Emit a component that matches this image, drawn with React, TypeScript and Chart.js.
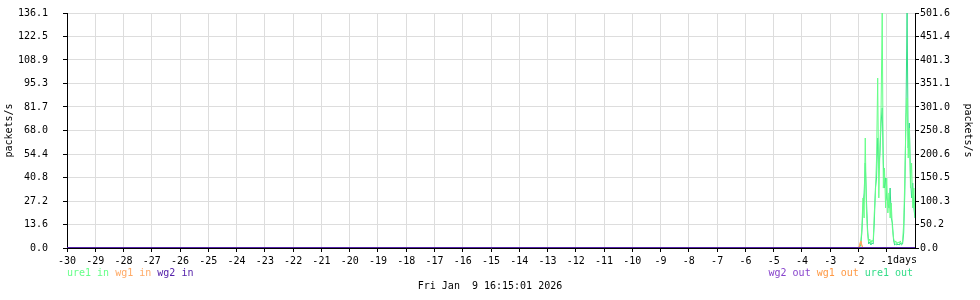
import React, { useEffect, useRef } from 'react';
import { Chart, registerables } from 'chart.js';

Chart.register(...registerables);

// ---------- data ----------
const xTickValues = [-30, -29, -28, -27, -26, -25, -24, -23, -22, -21, -20, -19, -18, -17, -16, -15, -14, -13, -12, -11, -10, -9, -8, -7, -6, -5, -4, -3, -2, -1];
const xUnitLabel = 'days';
const leftTickValues = [0, 13.6, 27.2, 40.8, 54.4, 68.0, 81.7, 95.3, 108.9, 122.5, 136.1];
const rightTickValues = [0, 50.2, 100.3, 150.5, 200.6, 250.8, 301.0, 351.1, 401.3, 451.4, 501.6];
const leftMax = 136.1;
const rightMax = 501.6;
const axisTitle = 'packets/s';
const dateLabel = 'Fri Jan  9 16:15:01 2026';
const inLegendLabels = ['ure1 in', 'wg1 in', 'wg2 in'];
const outLegendLabels = ['wg2 out', 'wg1 out', 'ure1 out'];

// samples cover the last 2.2 days (before that all series are 0)
const sampleStartDay = -2.2;
const sampleStepDay = 0.04;

const ure1In = [0, 0, 0, 0, 0, 0, 1.2, 2.9, 11.6, 29.0, 17.4, 63.7, 23.2, 8.7, 3.5, 5.2, 2.9, 4.6, 3.5, 20.3, 31.9, 52.1, 98.4, 29.0, 57.9, 81.1, 136.1, 34.7, 46.3, 23.2, 40.5, 20.3, 31.9, 17.4, 26.1, 11.6, 5.8, 2.9, 4.1, 2.3, 3.5, 2.9, 4.1, 2.3, 3.5, 14.5, 40.5, 75.3, 86.9, 52.1, 69.5, 34.7, 49.2, 23.2, 34.7, 17.4];
const ure1Out = [0, 0, 0, 0, 0, 0, 2.1, 6.4, 32.0, 85.4, 117.4, 181.4, 106.7, 42.7, 8.5, 12.8, 6.4, 10.7, 8.5, 53.4, 128.1, 149.4, 234.8, 170.8, 202.8, 266.8, 298.8, 181.4, 128.1, 149.4, 106.7, 96.1, 85.4, 128.1, 64.0, 53.4, 17.1, 6.4, 8.5, 6.4, 8.5, 6.4, 10.7, 6.4, 8.5, 32.0, 117.4, 288.2, 501.6, 213.5, 266.8, 149.4, 106.7, 138.7, 85.4, 64.0];
const wg1In = [0, 0, 0, 0, 0, 0, 1.7, 4.1, 1.2, 0, 0, 0, 0, 0, 0, 0, 0, 0, 0, 0, 0, 0, 0, 0, 0, 0, 0, 0, 0, 0, 0, 0, 0, 0, 0, 0, 0, 0, 0, 0, 0, 0, 0, 0, 0, 0, 0, 0, 0, 0, 0, 0, 0, 0, 0, 0];
const wg1Out = [0, 0, 0, 0, 0, 0, 4.3, 15.0, 6.4, 0, 0, 0, 0, 0, 0, 0, 0, 0, 0, 0, 0, 0, 0, 0, 0, 0, 0, 0, 0, 0, 0, 0, 0, 0, 0, 0, 0, 0, 0, 0, 0, 0, 0, 0, 0, 0, 0, 0, 0, 0, 0, 0, 0, 0, 0, 0];
const wg2In = [0, 0];
const wg2Out = [0, 0];
const wg2Days = [-30, 0];

// ---------- styles ----------
const FONT = '"DejaVu Sans Mono", monospace';
const C_URE1_IN = '#66ff88';
const C_WG1_IN = '#ffaa66';
const C_WG2_IN = '#5522aa';
const C_WG2_OUT = '#8844cc';
const C_WG1_OUT = '#ff9944';
const C_URE1_OUT = '#33dd88';
const inColors = [C_URE1_IN, C_WG1_IN, C_WG2_IN];
const outColors = [C_WG2_OUT, C_WG1_OUT, C_URE1_OUT];
const GRID = '#dddddd';

function toPoints(values: number[]) {
  const pts = [{ x: -30, y: 0 }];
  values.forEach((v, i) => pts.push({ x: sampleStartDay + i * sampleStepDay, y: v }));
  return pts;
}

const textPlugin = {
  id: 'rrdTexts',
  afterDraw(chart: any) {
    const ctx = chart.ctx;
    const area = chart.chartArea;
    ctx.save();
    ctx.font = '10px ' + FONT;
    ctx.textBaseline = 'middle';
    // left legend
    ctx.textAlign = 'left';
    let x = area.left;
    const legendY = 273;
    inLegendLabels.forEach((lab, i) => {
      ctx.fillStyle = inColors[i];
      ctx.fillText(lab, x, legendY);
      x += ctx.measureText(lab + ' ').width;
    });
    // right legend
    const full = outLegendLabels.join(' ');
    x = area.right - 2 - ctx.measureText(full).width;
    outLegendLabels.forEach((lab, i) => {
      ctx.fillStyle = outColors[i];
      ctx.fillText(lab, x, legendY);
      x += ctx.measureText(lab + ' ').width;
    });
    // date
    ctx.fillStyle = '#000';
    ctx.textAlign = 'center';
    ctx.fillText(dateLabel, chart.width / 2, 286);
    // unit label, right after the "-1" tick label
    ctx.textAlign = 'left';
    ctx.textBaseline = 'top';
    ctx.fillText(xUnitLabel, area.right - 22, area.bottom + 7);
    ctx.restore();
  },
};

export default function App() {
  const ref = useRef<HTMLCanvasElement | null>(null);

  useEffect(() => {
    if (!ref.current) return;
    Chart.defaults.font.family = FONT;
    Chart.defaults.font.size = 10;
    Chart.defaults.color = '#000';

    const line = (label: string, data: any[], color: string, axis: string, width = 1) => ({
      label,
      data,
      borderColor: color,
      backgroundColor: color,
      borderWidth: width,
      pointRadius: 0,
      tension: 0,
      fill: false,
      yAxisID: axis,
    });

    const fitY = (w: number) => (s: any) => {
      s.width = w;
      s.paddingTop = 6;
      s.paddingBottom = 6;
    };

    const chart = new Chart(ref.current, {
      type: 'line',
      data: {
        datasets: [
          line('wg2 in', wg2Days.map((d, i) => ({ x: d, y: wg2In[i] })), C_WG2_IN, 'y', 2),
          line('wg2 out', wg2Days.map((d, i) => ({ x: d, y: wg2Out[i] })), C_WG2_OUT, 'y2', 2),
          line('wg1 in', toPoints(wg1In), C_WG1_IN, 'y'),
          line('wg1 out', toPoints(wg1Out), C_WG1_OUT, 'y2'),
          line('ure1 in', toPoints(ure1In), C_URE1_IN, 'y'),
          line('ure1 out', toPoints(ure1Out), C_URE1_OUT, 'y2'),
        ] as any,
      },
      options: {
        animation: false,
        responsive: false,
        devicePixelRatio: 1,
        parsing: false as any,
        layout: { padding: { top: 13, left: 0, right: 0, bottom: 0 } },
        plugins: { legend: { display: false }, tooltip: { enabled: false } },
        scales: {
          x: {
            type: 'linear',
            min: -30,
            max: 0,
            z: 1,
            afterBuildTicks: (s: any) => { s.ticks = xTickValues.map((v) => ({ value: v })); },
            afterFit: (s: any) => { s.height = 52; s.paddingLeft = 0; s.paddingRight = 0; },
            ticks: {
              autoSkip: false,
              maxRotation: 0,
              padding: 3,
              callback: (v: any) => String(v),
            },
            grid: { color: GRID, tickColor: '#000', tickLength: 4, lineWidth: 1 },
            border: { color: '#000', width: 1 },
          },
          y: {
            type: 'linear',
            position: 'left',
            min: 0,
            max: leftMax,
            z: 1,
            afterBuildTicks: (s: any) => { s.ticks = leftTickValues.map((v) => ({ value: v })); },
            afterFit: fitY(67),
            ticks: { padding: 15, callback: (v: any) => Number(v).toFixed(1) },
            grid: { color: GRID, tickColor: '#000', tickLength: 4 },
            border: { color: '#000', width: 1 },
            title: { display: true, text: axisTitle, padding: { top: 3.5, bottom: 0 }, font: { size: 10 } },
          },
          y2: {
            type: 'linear',
            position: 'right',
            min: 0,
            max: rightMax,
            z: 1,
            afterBuildTicks: (s: any) => { s.ticks = rightTickValues.map((v) => ({ value: v })); },
            afterFit: fitY(65),
            ticks: { padding: 1, callback: (v: any) => Number(v).toFixed(1) },
            grid: { drawOnChartArea: false, tickColor: '#000', tickLength: 4 },
            border: { color: '#000', width: 1 },
            title: { display: true, text: axisTitle, padding: { top: 6.5, bottom: 0 }, font: { size: 10 } },
          },
        },
      } as any,
      plugins: [textPlugin],
    });
    return () => chart.destroy();
  }, []);

  return (
    <div style={{ position: 'fixed', left: 0, top: 0, width: 980, height: 300, background: '#fff' }}>
      <canvas ref={ref} width={980} height={300} style={{ width: 980, height: 300, display: 'block' }} />
    </div>
  );
}
